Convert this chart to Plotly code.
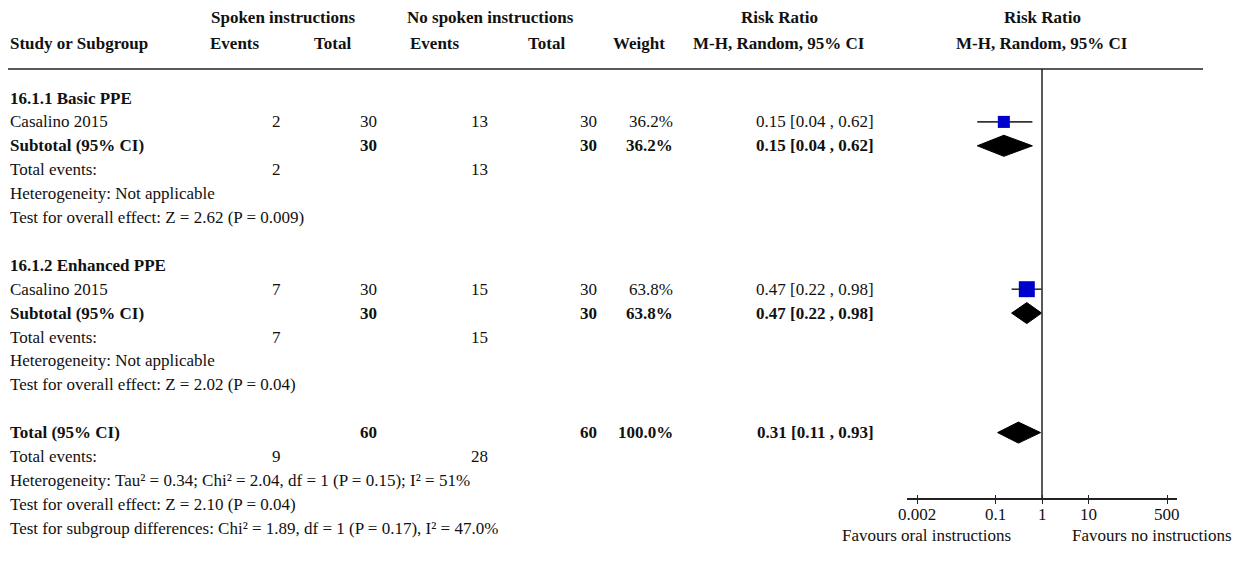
"""Forest plot: spoken vs no spoken instructions (Risk Ratio, M-H random)."""

import numpy as np
import plotly.graph_objects as go

# ---- data -----------------------------------------------------------------
subgroups = ["16.1.1 Basic PPE", "16.1.2 Enhanced PPE"]
studies = ["Casalino 2015", "Casalino 2015"]
spoken_events = [2, 7]
spoken_total = [30, 30]
none_events = [13, 15]
none_total = [30, 30]
weights = [36.2, 63.8]
rr = [0.15, 0.47]
rr_lo = [0.04, 0.22]
rr_hi = [0.62, 0.98]

sub_rr = [0.15, 0.47]
sub_lo = [0.04, 0.22]
sub_hi = [0.62, 0.98]
sub_het = ["Heterogeneity: Not applicable", "Heterogeneity: Not applicable"]
sub_test = ["Test for overall effect: Z = 2.62 (P = 0.009)",
            "Test for overall effect: Z = 2.02 (P = 0.04)"]

total_rr = 0.31
total_lo = 0.11
total_hi = 0.93
total_events = [9, 28]
total_n = [60, 60]
total_weight = 100.0
total_het = "Heterogeneity: Tau² = 0.34; Chi² = 2.04, df = 1 (P = 0.15); I² = 51%"
total_test = "Test for overall effect: Z = 2.10 (P = 0.04)"
subgroup_test = "Test for subgroup differences: Chi² = 1.89, df = 1 (P = 0.17), I² = 47.0%"

null_rr = 1
tick_vals = [0.002, 0.1, 1, 10, 500]
tick_text = ["0.002", "0.1", "1", "10", "500"]
favours = ["Favours oral instructions", "Favours no instructions"]

# ---- geometry (pixels of a 1245 x 572 page) -------------------------------
W, H = 1245, 572
ROW0_PX, ROW_PX = 98, 23.9        # centre of first body row, row pitch
AXIS_PX = 499                      # forest x-axis line
RULE_PX = 69                       # header rule
FONT = "Liberation Serif, Times New Roman, serif"
FS = 17
INK = "#111111"
BLUE = "#0000cc"
DIAMOND_H = 0.44                   # half-height of diamonds, in rows


def row_of(px):
    return (px - ROW0_PX) / ROW_PX


def xp(px):
    return px / W


fig = go.Figure()
ann = []


def txt(text, x, row, anchor="left", bold=False, xref="paper"):
    if bold:
        text = "<b>" + text + "</b>"
    ann.append(dict(text=text, x=xp(x) if xref == "paper" else x, xref=xref,
                    y=row, yref="y", xanchor=anchor, yanchor="middle",
                    showarrow=False, font=dict(family=FONT, size=FS, color=INK)))


def ci(v, lo, hi):
    return f"{v:.2f} [{lo:.2f} , {hi:.2f}]"


def diamond(est, lo, hi, row):
    fig.add_trace(go.Scatter(
        x=[lo, est, hi, est, lo], y=[row, row - DIAMOND_H, row, row + DIAMOND_H, row],
        mode="lines", fill="toself", fillcolor="black",
        line=dict(color="black", width=1), hoverinfo="skip"))


# ---- header ---------------------------------------------------------------
h1, h2 = row_of(17), row_of(43)
txt("Spoken instructions", 283, h1, "center", True)
txt("No spoken instructions", 490, h1, "center", True)
txt("Risk Ratio", 779, h1, "center", True)
txt("Risk Ratio", 1042, h1, "center", True)
txt("Study or Subgroup", 8, h2, "left", True)
txt("Events", 235, h2, "center", True)
txt("Total", 332, h2, "center", True)
txt("Events", 435, h2, "center", True)
txt("Total", 546, h2, "center", True)
txt("Weight", 639, h2, "center", True)
txt("M-H, Random, 95% CI", 779, h2, "center", True)
txt("M-H, Random, 95% CI", 1042, h2, "center", True)

# ---- body -----------------------------------------------------------------
C_EV1, C_N1, C_EV2, C_N2, C_W, C_CI = 283, 379, 490, 599, 675, 876
LX = 8
row = 0
study_rows = []
for g, name in enumerate(subgroups):
    txt(name, LX, row, bold=True)
    row += 1
    txt(studies[g], LX, row)
    txt(str(spoken_events[g]), C_EV1, row, "right")
    txt(str(spoken_total[g]), C_N1, row, "right")
    txt(str(none_events[g]), C_EV2, row, "right")
    txt(str(none_total[g]), C_N2, row, "right")
    txt(f"{weights[g]:.1f}%", C_W, row, "right")
    txt(ci(rr[g], rr_lo[g], rr_hi[g]), C_CI, row, "right")
    fig.add_trace(go.Scatter(x=[rr_lo[g], rr_hi[g]], y=[row, row], mode="lines",
                             line=dict(color="#333333", width=1.6), hoverinfo="skip"))
    study_rows.append(row)
    row += 1
    txt("Subtotal (95% CI)", LX, row, bold=True)
    txt(str(spoken_total[g]), C_N1, row, "right", True)
    txt(str(none_total[g]), C_N2, row, "right", True)
    txt(f"{weights[g]:.1f}%", C_W, row, "right", True)
    txt(ci(sub_rr[g], sub_lo[g], sub_hi[g]), C_CI, row, "right", True)
    diamond(sub_rr[g], sub_lo[g], sub_hi[g], row)
    row += 1
    txt("Total events:", LX, row)
    txt(str(spoken_events[g]), C_EV1, row, "right")
    txt(str(none_events[g]), C_EV2, row, "right")
    row += 1
    txt(sub_het[g], LX, row)
    row += 1
    txt(sub_test[g], LX, row)
    row += 2

txt("Total (95% CI)", LX, row, bold=True)
txt(str(total_n[0]), C_N1, row, "right", True)
txt(str(total_n[1]), C_N2, row, "right", True)
txt(f"{total_weight:.1f}%", C_W, row, "right", True)
txt(ci(total_rr, total_lo, total_hi), C_CI, row, "right", True)
diamond(total_rr, total_lo, total_hi, row)
row += 1
txt("Total events:", LX, row)
txt(str(total_events[0]), C_EV1, row, "right")
txt(str(total_events[1]), C_EV2, row, "right")
row += 1
txt(total_het, LX, row)
row += 1
txt(total_test, LX, row)
row += 1
txt(subgroup_test, LX, row)

# study squares, sized by weight
fig.add_trace(go.Scatter(
    x=rr, y=study_rows, mode="markers", hoverinfo="skip",
    marker=dict(symbol="square", color=BLUE, opacity=1, line=dict(width=0),
                size=[20 * np.sqrt(w / 100) for w in weights])))

# invisible trace to carry the upper tick marks
fig.add_trace(go.Scatter(x=[null_rr], y=[0], xaxis="x2", mode="markers",
                         marker=dict(opacity=0), hoverinfo="skip"))

# tick labels (annotation x on a log axis is log10 of the value) and favours labels
tick_row = row_of(514)
for v, s in zip(tick_vals, tick_text):
    txt(s, float(np.log10(v)), tick_row, "center", xref="x")
fav_row = row_of(535)
txt(favours[0], 926, fav_row, "center")
txt(favours[1], 1152, fav_row, "center")

# header rule and null line
shapes = [
    dict(type="line", xref="paper", yref="y", x0=xp(8), x1=xp(1203),
         y0=row_of(RULE_PX), y1=row_of(RULE_PX), line=dict(color="#222222", width=1.5)),
    dict(type="line", xref="x", yref="y", x0=null_rr, x1=null_rr,
         y0=row_of(RULE_PX), y1=row_of(AXIS_PX), line=dict(color="#222222", width=1.5)),
]

x_dom = [xp(907), xp(1177)]
x_rng = [-2.915, 2.915]
axis_pos = 1 - AXIS_PX / H

fig.update_layout(
    width=W, height=H, margin=dict(l=0, r=0, t=0, b=0),
    paper_bgcolor="white", plot_bgcolor="white", showlegend=False,
    annotations=ann, shapes=shapes,
    xaxis=dict(type="log", domain=x_dom, range=x_rng, anchor="free", position=axis_pos,
               showline=True, linecolor="#222222", linewidth=1.5, showgrid=False,
               zeroline=False, ticks="outside", ticklen=4, tickwidth=1.2,
               tickcolor="#222222", tickvals=tick_vals, showticklabels=False),
    xaxis2=dict(type="log", domain=x_dom, range=x_rng, overlaying="x", anchor="free",
                position=axis_pos, showline=False, showgrid=False, zeroline=False,
                ticks="inside", ticklen=4, tickwidth=1.2, tickcolor="#222222",
                tickvals=tick_vals, showticklabels=False),
    yaxis=dict(range=[row_of(H), row_of(0)], domain=[0, 1], visible=False),
)

# drop the default 8px page margin so the figure sits at the window origin
fig.write_html("out.html", config={"displayModeBar": False},
               post_script="document.body.style.margin='0px';")
